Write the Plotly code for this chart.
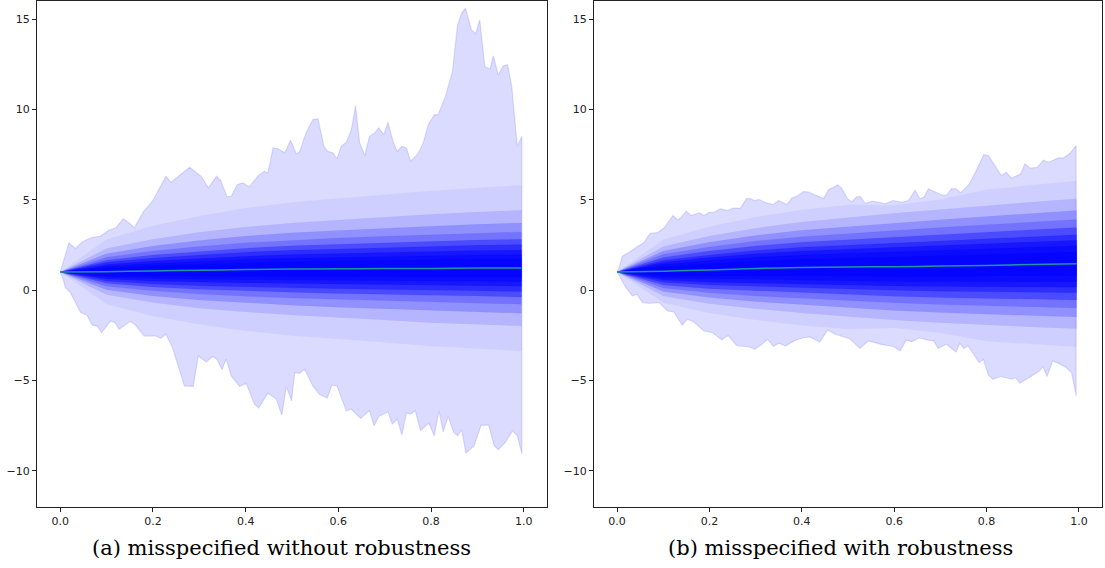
import plotly.graph_objects as go

# ---------------- data ----------------
# outer envelope (max / min over paths), (t, value) pairs
a_upper = [(0, 1.0), (0.019, 2.62), (0.033, 2.31), (0.048, 2.68), (0.066, 2.9), (0.087, 2.99), (0.105, 3.32),
           (0.12, 3.45), (0.136, 3.95), (0.147, 3.76), (0.16, 3.45), (0.18, 4.37), (0.199, 4.92), (0.228, 6.30),
           (0.239, 5.97), (0.26, 6.40), (0.279, 6.80), (0.29, 6.58), (0.304, 6.30), (0.32, 5.66), (0.337, 6.30),
           (0.346, 6.08), (0.36, 5.17), (0.369, 5.20), (0.382, 5.85), (0.394, 5.94), (0.408, 5.72), (0.427, 6.34),
           (0.44, 6.58), (0.448, 6.49), (0.459, 7.87), (0.47, 7.82), (0.484, 7.6), (0.497, 8.29), (0.509, 7.56),
           (0.516, 7.63), (0.53, 8.70), (0.545, 9.44), (0.556, 9.49), (0.569, 7.96), (0.577, 7.68), (0.588, 7.60),
           (0.597, 7.27), (0.606, 7.96), (0.617, 8.18), (0.628, 8.88), (0.637, 10.21), (0.646, 8.15), (0.657, 7.45),
           (0.667, 8.51), (0.678, 8.70), (0.687, 8.98), (0.698, 8.61), (0.707, 9.29), (0.718, 8.24), (0.727, 7.68),
           (0.737, 7.96), (0.747, 7.87), (0.756, 7.13), (0.772, 7.56), (0.783, 8.15), (0.794, 9.16), (0.807, 9.71),
           (0.815, 9.71), (0.831, 10.72), (0.846, 12.10), (0.857, 14.69), (0.866, 15.33), (0.874, 15.61),
           (0.887, 14.41), (0.896, 14.19), (0.905, 14.96), (0.916, 12.38), (0.927, 12.24), (0.934, 12.97),
           (0.945, 11.92), (0.956, 12.42), (0.965, 12.48), (0.974, 11.28), (0.986, 7.96), (0.996, 8.51)]
a_lower = [(0, 1.0), (0.0065, 0.6), (0.011, 0.14), (0.022, -0.14), (0.044, -1.24), (0.058, -1.39), (0.069, -1.94),
           (0.08, -1.98), (0.089, -2.35), (0.109, -1.71), (0.118, -1.80), (0.127, -2.17), (0.151, -1.74),
           (0.161, -1.89), (0.181, -2.54), (0.206, -2.54), (0.217, -2.66), (0.228, -2.44), (0.242, -3.18),
           (0.268, -5.30), (0.287, -5.33), (0.298, -3.64), (0.315, -3.97), (0.329, -3.67), (0.338, -3.82),
           (0.349, -4.41), (0.358, -3.82), (0.369, -4.75), (0.387, -5.33), (0.401, -5.15), (0.419, -6.31),
           (0.428, -6.53), (0.448, -5.70), (0.466, -6.03), (0.478, -6.92), (0.488, -5.33), (0.499, -6.13),
           (0.506, -4.56), (0.516, -4.61), (0.527, -4.38), (0.545, -5.30), (0.559, -5.76), (0.576, -5.98),
           (0.586, -5.26), (0.597, -5.30), (0.617, -6.68), (0.628, -6.59), (0.648, -7.1), (0.667, -6.68),
           (0.677, -7.51), (0.687, -6.99), (0.707, -6.73), (0.716, -7.41), (0.727, -7.14), (0.737, -8.02),
           (0.747, -6.80), (0.756, -6.86), (0.766, -6.68), (0.777, -7.78), (0.795, -7.36), (0.807, -8.06),
           (0.817, -6.68), (0.826, -7.84), (0.837, -6.99), (0.848, -7.84), (0.857, -8.06), (0.866, -7.73),
           (0.875, -9.02), (0.893, -8.61), (0.908, -7.47), (0.924, -7.47), (0.936, -8.61), (0.945, -8.83),
           (0.960, -8.43), (0.976, -7.78), (0.986, -8.06), (0.996, -9.07)]

b_upper = [(0, 1.0), (0.004, 1.24), (0.011, 1.88), (0.026, 2.1), (0.043, 2.40), (0.058, 2.62), (0.071, 3.14),
           (0.087, 3.18), (0.102, 3.45), (0.121, 4.13), (0.132, 3.87), (0.150, 4.37), (0.160, 4.13), (0.179, 4.28),
           (0.189, 4.13), (0.199, 4.31), (0.210, 4.31), (0.223, 4.5), (0.240, 4.41), (0.251, 4.54), (0.267, 4.54),
           (0.280, 5.06), (0.289, 5.06), (0.297, 4.96), (0.307, 5.02), (0.319, 4.87), (0.338, 4.74), (0.350, 4.96),
           (0.368, 4.74), (0.379, 5.11), (0.389, 5.20), (0.404, 5.46), (0.415, 5.42), (0.431, 5.25), (0.447, 5.07),
           (0.458, 5.57), (0.467, 5.66), (0.477, 5.83), (0.486, 5.66), (0.499, 5.06), (0.508, 4.89), (0.519, 5.17),
           (0.527, 5.17), (0.537, 4.80), (0.553, 4.92), (0.566, 4.87), (0.580, 4.78), (0.597, 4.96), (0.616, 4.87),
           (0.631, 4.96), (0.645, 5.53), (0.656, 5.06), (0.665, 5.17), (0.674, 5.61), (0.688, 5.44), (0.706, 5.24),
           (0.715, 5.29), (0.724, 5.62), (0.734, 5.61), (0.744, 5.39), (0.762, 5.85), (0.777, 6.58), (0.794, 7.50),
           (0.804, 7.45), (0.818, 6.90), (0.832, 6.34), (0.843, 6.52), (0.854, 6.19), (0.874, 6.44), (0.883, 6.99),
           (0.895, 6.75), (0.910, 6.80), (0.923, 7.19), (0.935, 7.08), (0.955, 7.32), (0.967, 7.32), (0.980, 7.56),
           (0.994, 8.00)]
b_lower = [(0, 1.0), (0.008, 0.60), (0.019, 0.14), (0.033, -0.33), (0.043, -0.23), (0.055, -0.69), (0.069, -0.73),
           (0.091, -0.69), (0.109, -1.15), (0.123, -1.21), (0.141, -1.94), (0.152, -1.61), (0.166, -1.76),
           (0.188, -2.26), (0.206, -2.35), (0.227, -2.76), (0.240, -2.50), (0.260, -3.09), (0.283, -3.12),
           (0.298, -3.27), (0.314, -2.99), (0.326, -2.72), (0.339, -3.12), (0.350, -2.94), (0.365, -3.09),
           (0.383, -2.81), (0.400, -2.66), (0.417, -2.59), (0.439, -2.87), (0.456, -2.20), (0.472, -2.44),
           (0.503, -2.68), (0.526, -3.22), (0.544, -2.81), (0.570, -2.99), (0.598, -3.12), (0.613, -3.36),
           (0.626, -2.77), (0.638, -2.85), (0.654, -2.65), (0.674, -2.77), (0.686, -2.81), (0.695, -3.23),
           (0.713, -2.99), (0.734, -3.42), (0.742, -2.94), (0.751, -3.23), (0.760, -3.09), (0.784, -4.01),
           (0.793, -3.82), (0.804, -4.71), (0.814, -4.93), (0.830, -4.78), (0.854, -4.93), (0.863, -4.84),
           (0.872, -5.15), (0.886, -4.93), (0.904, -4.65), (0.915, -4.47), (0.922, -4.23), (0.931, -4.78),
           (0.943, -3.92), (0.955, -4.04), (0.972, -4.28), (0.984, -4.56), (0.994, -5.85)]

# inner quantile bands: time grid, median, half-widths per quantile level (outer -> inner)
t_grid = [0, 0.1, 0.2, 0.3, 0.4, 0.5, 0.6, 0.7, 0.8, 0.9, 0.995]
a_median = [1.0, 1.02, 1.06, 1.1, 1.14, 1.17, 1.18, 1.2, 1.2, 1.22, 1.22]
b_median = [1.0, 1.05, 1.12, 1.2, 1.25, 1.28, 1.3, 1.33, 1.37, 1.42, 1.46]

a_w99 = [0, 1.8, 2.5, 3.0, 3.4, 3.7, 3.9, 4.1, 4.3, 4.45, 4.6]
a_w95 = [0, 1.28, 1.75, 2.1, 2.35, 2.55, 2.7, 2.85, 3.0, 3.1, 3.2]
a_w90 = [0, 1.0, 1.38, 1.65, 1.85, 2.0, 2.12, 2.23, 2.33, 2.42, 2.5]
a_w85 = [0, 0.8, 1.1, 1.32, 1.48, 1.6, 1.7, 1.78, 1.86, 1.94, 2.0]
a_w80 = [0, 0.64, 0.88, 1.05, 1.18, 1.28, 1.36, 1.42, 1.49, 1.55, 1.6]
a_w75 = [0, 0.52, 0.72, 0.86, 0.96, 1.04, 1.1, 1.16, 1.21, 1.26, 1.3]
a_w70 = [0, 0.4, 0.55, 0.66, 0.74, 0.8, 0.85, 0.89, 0.93, 0.97, 1.0]
a_w65 = [0, 0.3, 0.41, 0.5, 0.56, 0.6, 0.64, 0.67, 0.7, 0.73, 0.75]
a_w60 = [0, 0.2, 0.28, 0.33, 0.37, 0.4, 0.43, 0.45, 0.47, 0.49, 0.5]

b_w99 = [0, 1.75, 2.4, 2.85, 3.2, 3.45, 3.4, 3.7, 4.2, 4.4, 4.6]
b_w95 = [0, 1.37, 1.87, 2.23, 2.52, 2.74, 2.95, 3.13, 3.31, 3.46, 3.6]
b_w90 = [0, 1.12, 1.53, 1.83, 2.06, 2.24, 2.42, 2.57, 2.71, 2.83, 2.95]
b_w85 = [0, 0.93, 1.27, 1.52, 1.71, 1.86, 2.0, 2.13, 2.25, 2.35, 2.45]
b_w80 = [0, 0.76, 1.04, 1.24, 1.4, 1.52, 1.64, 1.74, 1.84, 1.92, 2.0]
b_w75 = [0, 0.61, 0.83, 0.99, 1.12, 1.22, 1.31, 1.39, 1.47, 1.54, 1.6]
b_w70 = [0, 0.49, 0.68, 0.81, 0.91, 0.99, 1.07, 1.13, 1.2, 1.25, 1.3]
b_w65 = [0, 0.38, 0.52, 0.62, 0.7, 0.76, 0.82, 0.87, 0.92, 0.96, 1.0]
b_w60 = [0, 0.25, 0.34, 0.4, 0.46, 0.49, 0.53, 0.57, 0.6, 0.62, 0.65]

captions = ["(a) misspecified without robustness", "(b) misspecified with robustness"]
x_ticks = [0.0, 0.2, 0.4, 0.6, 0.8, 1.0]
y_ticks = [-10, -5, 0, 5, 10, 15]

# ---------------- figure ----------------
band_alphas = [0.05, 0.12, 0.20, 0.20, 0.35, 0.40, 0.50, 0.50, 0.50]

fig = go.Figure()

panels = [
    ("x", "y", a_upper, a_lower, a_median,
     [a_w99, a_w95, a_w90, a_w85, a_w80, a_w75, a_w70, a_w65, a_w60]),
    ("x2", "y2", b_upper, b_lower, b_median,
     [b_w99, b_w95, b_w90, b_w85, b_w80, b_w75, b_w70, b_w65, b_w60]),
]

for xa, ya, up, lo, med, widths in panels:
    ex = [p[0] for p in up] + [p[0] for p in lo][::-1]
    ey = [p[1] for p in up] + [p[1] for p in lo][::-1]
    fig.add_trace(go.Scatter(x=ex, y=ey, fill="toself", mode="lines",
                             fillcolor="rgba(0,0,255,0.14)",
                             line=dict(color="rgba(0,0,255,0.12)", width=1.2),
                             xaxis=xa, yaxis=ya, hoverinfo="skip", showlegend=False))
    for w, al in zip(widths, band_alphas):
        upper = [m + d for m, d in zip(med, w)]
        lower = [m - d for m, d in zip(med, w)]
        fig.add_trace(go.Scatter(x=t_grid + t_grid[::-1], y=upper + lower[::-1],
                                 fill="toself", mode="lines",
                                 fillcolor=f"rgba(0,0,255,{al})",
                                 line=dict(color=f"rgba(0,0,255,{al * 0.25:.3f})", width=0.5),
                                 xaxis=xa, yaxis=ya, hoverinfo="skip", showlegend=False))
    fig.add_trace(go.Scatter(x=t_grid, y=med, mode="lines",
                             line=dict(color="rgb(30,150,160)", width=1.5, shape="spline", smoothing=0.6),
                             xaxis=xa, yaxis=ya, hoverinfo="skip", showlegend=False))

W, H = 1105, 568
axis_common = dict(showline=True, mirror=True, linecolor="#222", linewidth=1,
                   ticks="outside", ticklen=4, tickcolor="#222", tickwidth=1,
                   showgrid=False, zeroline=False,
                   tickfont=dict(family="DejaVu Sans", size=11, color="#222"))

fig.update_layout(
    width=W, height=H,
    margin=dict(l=0, r=0, t=1, b=61),
    paper_bgcolor="white", plot_bgcolor="white",
    xaxis=dict(domain=[37 / W, 547 / W], range=[-0.05, 1.05], tickvals=x_ticks,
               tickformat=".1f", anchor="y", **axis_common),
    yaxis=dict(domain=[0, 1], range=[-12, 16], tickvals=y_ticks, anchor="x", **axis_common),
    xaxis2=dict(domain=[594 / W, 1102 / W], range=[-0.05, 1.05], tickvals=x_ticks,
                tickformat=".1f", anchor="y2", **axis_common),
    yaxis2=dict(domain=[0, 1], range=[-12, 16], tickvals=y_ticks, anchor="x2", **axis_common),
    showlegend=False,
)

for cx, txt in zip([281, 840], captions):
    fig.add_annotation(text=txt, xref="paper", yref="paper", x=cx / W, y=(507 - 548) / 506,
                       xanchor="center", yanchor="middle", showarrow=False,
                       font=dict(family="DejaVu Serif", size=21, color="black"))

fig.write_html("out.html", config={"displayModeBar": False},
               post_script="document.body.style.margin='0';")
